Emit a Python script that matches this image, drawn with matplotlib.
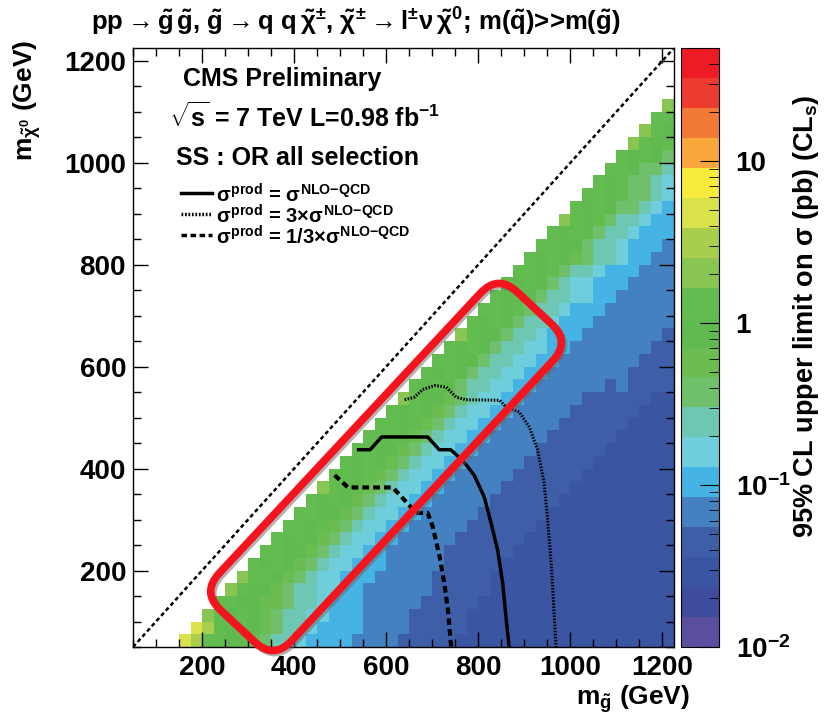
import numpy as np
import matplotlib
matplotlib.use("Agg")
import matplotlib.pyplot as plt
import matplotlib.patheffects as pe
from matplotlib.colors import ListedColormap, LogNorm
from matplotlib.lines import Line2D
from matplotlib.patches import FancyBboxPatch
from matplotlib.transforms import Affine2D
from matplotlib.ticker import MultipleLocator, LogLocator, NullFormatter

plt.rcParams["font.family"] = ["Liberation Sans", "DejaVu Sans"]
plt.rcParams["font.weight"] = "bold"
plt.rcParams["mathtext.fontset"] = "custom"
plt.rcParams["mathtext.rm"] = "Liberation Sans:bold"
plt.rcParams["mathtext.it"] = "Liberation Sans:bold"
plt.rcParams["mathtext.bf"] = "Liberation Sans:bold"
plt.rcParams["mathtext.sf"] = "Liberation Sans:bold"

# 25 GeV grid in gluino mass (x) and neutralino mass (y)
gluino_edges = np.arange(50, 1226, 25)
chi_edges = np.arange(50, 1226, 25)

# colour bands of the palette, from the lowest limit (0.01 pb) to the highest (50 pb)
band_colors = ["#5A4F9F", "#3D4C9C", "#3A55A2", "#3E5FA8", "#4481C0",
               "#45B4E4", "#6FCEDC", "#6EC7B2", "#70C06B", "#6BBD52",
               "#60BA50", "#63BC50", "#88C552", "#A8CE4E", "#D9E24A",
               "#F7EC3B", "#F9A73B", "#F27A36", "#EE3B2F", "#ED1C24"]
z_min, z_max = 0.01, 50.0

# one entry per neutralino row (50-75 GeV upward):
# gluino mass where the row starts, then the palette band (hex digit) of each cell
limit_bands = [
    (150, "edbbaa98776" "5555" "4444" "33333" "22222" "22222" "22222" "2222"),
    (175, "edbaba98776" "5555" "4444" "33333" "22222" "22222" "22222" "222"),
    (200, "cbaba987766" "555" "4444" "33333" "22222" "22222" "22222" "222"),
    (225, "bbaa998776" "555" "44444" "33333" "22222" "22222" "22222" "22"),
    (250, "cbaa987766" "55" "444444" "33333" "22222" "22222" "22222" "2"),
    (275, "cbba98766" "555" "44444" "33333" "22222" "22222" "22222" "2"),
    (300, "baba98766" "555" "44444" "33333" "22222" "22222" "22222"),
    (325, "bbaa98766" "55" "44444" "333333" "22222" "22222" "2222"),
    (350, "baba98766" "55" "44444" "333333" "22222" "22222" "222"),
    (375, "bbab98766" "55" "44444" "333333" "22222" "22222" "22"),
    (400, "bbaa98766" "55" "44444" "333333" "22222" "22222" "2"),
    (425, "baba98766" "55" "44444" "333333" "22222" "22222"),
    (450, "cbaa98766" "55" "44444" "333333" "22222" "2222"),
    (475, "bbab98766" "55" "44444" "333333" "22222" "222"),
    (500, "baba98766" "55" "44444" "333333" "22222" "22"),
    (525, "bbaa98766" "55" "44444" "333333" "22222" "2"),
    (550, "baba98766" "55" "44444" "333333" "22222"),
    (575, "bbab98766" "55" "44444" "333333" "2222"),
    (600, "baba98766" "55" "44444" "333333" "222"),
    (625, "cbaa98766" "55" "44444" "333333" "22"),
    (650, "baba8" "77" "66" "55" "444444" "3" "4" "3333"),
    (675, "baba8" "77" "66" "55" "4444444" "3333"),
    (700, "bbaa8" "77" "66" "55" "4444444" "333"),
    (725, "baba8" "77" "66" "55" "4444444" "33"),
    (750, "cbaa8" "77" "6" "555" "4444444" "3"),
    (775, "baba8" "77" "6" "555" "4444444"),
    (800, "bbab8" "77" "6" "555" "444444"),
    (825, "baba8" "77" "66" "55" "44444"),
    (850, "baba8" "7" "66" "555" "4444"),
    (875, "bbab8" "77" "6" "555" "444"),
    (900, "baba98" "77" "6" "55" "44"),
    (925, "bbaa8" "77" "6" "555" "4"),
    (950, "baba8" "77" "6" "555"),
    (975, "cbab8" "77" "6" "55"),
    (1000, "baba88" "7" "6" "5"),
    (1025, "bbab88" "7" "6"),
    (1050, "bab88" "7" "6"),
    (1075, "bba88" "7"),
    (1100, "baba8"),
    (1125, "cbab"),
    (1150, "cba"),
    (1175, "bb"),
    (1200, "c"),
]

# exclusion contours (gluino mass, neutralino mass) in GeV
nlo_x = [540, 565, 590, 690, 715, 740, 766, 791, 813, 828, 842, 853, 860, 867]
nlo_y = [437, 437, 462, 462, 437, 437, 416, 387, 344, 292, 240, 175, 109, 50]
nlo3_x = [640, 661, 679, 705, 730, 752, 773, 846, 860, 889, 911, 929, 943,
          950, 956, 961, 965, 969]
nlo3_y = [535, 540, 555, 563, 560, 540, 535, 534, 521, 511, 481, 436, 371,
          305, 240, 175, 109, 50]
nlo13_x = [488, 517, 614, 643, 665, 690, 701, 716, 726, 734, 741]
nlo13_y = [387, 363, 363, 335, 313, 313, 286, 227, 175, 123, 50]

# build the limit map from the bands
levels = np.geomspace(z_min, z_max, len(band_colors) + 1)
band_value = np.sqrt(levels[:-1] * levels[1:])
limit = np.full((len(chi_edges) - 1, len(gluino_edges) - 1), np.nan)
bad = []
for j, (start, bands) in enumerate(limit_bands):
    i0 = int(np.searchsorted(gluino_edges, start))
    if i0 + len(bands) != len(gluino_edges) - 1:
        bad.append((start, i0 + len(bands)))
    for t, c in enumerate(bands):
        limit[j, i0 + t] = band_value[int(c, 16)]
if bad:
    raise ValueError(f"bad rows: {bad}")
limit = np.ma.masked_invalid(limit)

W, H = 827, 721
fig = plt.figure(figsize=(W / 100, H / 100), dpi=100)


def fpx(x, y):
    return x / W, 1 - y / H


ax = fig.add_axes([133 / W, 74 / H, 541 / W, 599 / H])
cax = fig.add_axes([681 / W, 74 / H, 38 / W, 599 / H])

mesh = ax.pcolormesh(gluino_edges, chi_edges, limit,
                     cmap=ListedColormap(band_colors),
                     norm=LogNorm(vmin=z_min, vmax=z_max))

ax.axline((0, 0), (1, 1), color="black", lw=1.8, linestyle=(0, (1.6, 1.2)))
ax.plot(nlo_x, nlo_y, color="black", lw=2.5)
ax.plot(nlo3_x, nlo3_y, color="black", lw=2.2, linestyle=(0, (0.5, 0.5)))
ax.plot(nlo13_x, nlo13_y, color="black", lw=3, linestyle=(0, (1.6, 1.0)))

ax.set_xlim(50, 1225)
ax.set_ylim(50, 1225)
ax.xaxis.set_major_locator(MultipleLocator(200))
ax.xaxis.set_minor_locator(MultipleLocator(50))
ax.yaxis.set_major_locator(MultipleLocator(200))
ax.yaxis.set_minor_locator(MultipleLocator(50))
ax.tick_params(which="both", direction="in", top=True, right=True,
               labelsize=20, width=1)
ax.tick_params(which="major", length=11)
ax.tick_params(which="minor", length=6)
ax.tick_params(axis="x", pad=6)
ax.tick_params(axis="y", pad=5)
for s in ax.spines.values():
    s.set_linewidth(1)

cb = fig.colorbar(mesh, cax=cax)
cb.outline.set_linewidth(0.8)
cb.set_ticks([0.01, 0.1, 1, 10], labels=["$10^{-2}$", "$10^{-1}$", "1", "10"])
cax.yaxis.set_minor_locator(LogLocator(subs=np.arange(2, 10)))
cax.yaxis.set_minor_formatter(NullFormatter())
cax.tick_params(which="both", direction="in", right=True, labelsize=20,
                pad=12)
cax.tick_params(which="major", length=14)
cax.tick_params(which="minor", length=7)

# titles and labels
fig.text(*fpx(356, 22),
         r"pp$\rightarrow\tilde{g}\,\tilde{g}$, $\tilde{g}\rightarrow$q q"
         r"$\,\tilde{\chi}^{\pm}$, $\tilde{\chi}^{\pm}\rightarrow$l$^{\pm}$"
         r"$\nu\,\tilde{\chi}^{0}$; m($\tilde{q}$)>>m($\tilde{g}$)",
         fontsize=18.5, ha="center", va="center")
fig.text(*fpx(690, 699), r"m$_{\tilde{g}}$ (GeV)", fontsize=19,
         ha="right", va="center")
fig.text(*fpx(27, 40), r"m$_{\tilde{\chi}^{0}}$ (GeV)", fontsize=19,
         rotation=90, ha="center", va="top")
fig.text(*fpx(806, 316), r"95% CL upper limit on $\sigma$ (pb) (CL$_{s}$)",
         fontsize=19.5, rotation=90, ha="center", va="center")

fig.text(*fpx(183, 79), "CMS Preliminary", fontsize=18, va="center")
fig.text(*fpx(169, 117), r"$\sqrt{s}$ = 7 TeV L=0.98 fb$^{-1}$",
         fontsize=18, va="center")
fig.text(*fpx(176, 158), "SS : OR all selection", fontsize=18, va="center")

legend_rows = [
    (193, "-", r"$\sigma^{prod}$ = $\sigma^{NLO{-}QCD}$"),
    (214, (0, (0.5, 0.5)), r"$\sigma^{prod}$ = 3$\times\sigma^{NLO{-}QCD}$"),
    (235, (0, (1.6, 1.0)), r"$\sigma^{prod}$ = 1/3$\times\sigma^{NLO{-}QCD}$"),
]
for y, ls, label in legend_rows:
    x0, y0 = fpx(181, y)
    x1, _ = fpx(212, y)
    fig.add_artist(Line2D([x0, x1], [y0, y0], color="black", lw=2.5,
                          linestyle=ls, transform=fig.transFigure))
    fig.text(*fpx(216, y + 2), label, fontsize=14.5, va="center")

# red highlight box
box_tf = (Affine2D().rotate_deg(47).translate(386, H - 467)
          .scale(1 / W, 1 / H) + fig.transFigure)
box = FancyBboxPatch((-217.5, -49.5), 435, 99,
                     boxstyle="round,pad=0,rounding_size=26",
                     transform=box_tf, fill=False, edgecolor="#F5141E",
                     linewidth=5.5, zorder=10)
box.set_path_effects([pe.SimpleLineShadow(offset=(1.5, -1.5),
                                          shadow_color="0.4", alpha=0.5),
                      pe.Normal()])
fig.add_artist(box)

fig.savefig("out.png", dpi=100)
